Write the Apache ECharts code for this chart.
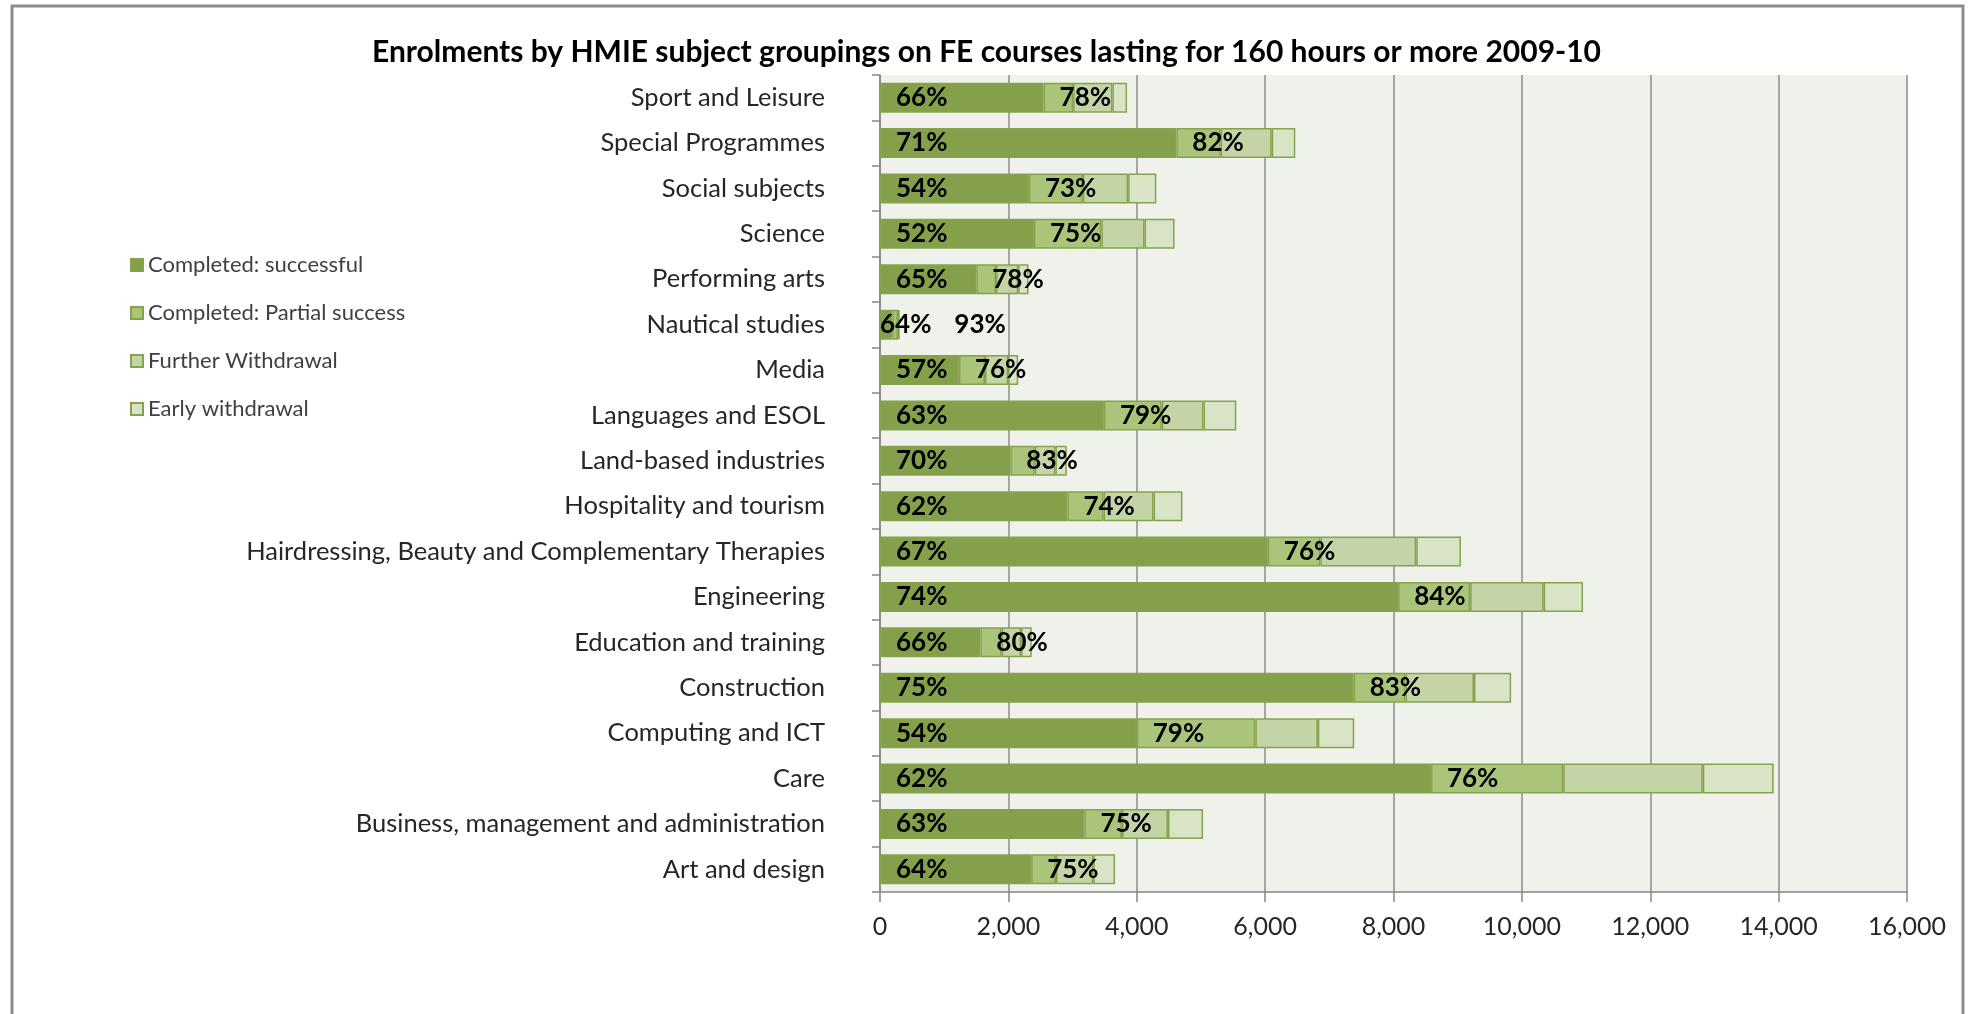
<!DOCTYPE html>
<html>
<head>
<meta charset="utf-8">
<title>Enrolments by HMIE subject groupings 2009-10</title>
<script src="https://cdn.jsdelivr.net/npm/echarts@6/dist/echarts.min.js"></script>
<style>
  html, body { margin: 0; padding: 0; background: #ffffff; }
  #chart { width: 1973px; height: 1014px; }
</style>
</head>
<body>
<div id="chart"></div>
<script>
// Subject groupings, listed bottom to top along the category axis
const categories = [
  'Art and design',
  'Business, management and administration',
  'Care',
  'Computing and ICT',
  'Construction',
  'Education and training',
  'Engineering',
  'Hairdressing, Beauty and Complementary Therapies',
  'Hospitality and tourism',
  'Land-based industries',
  'Languages and ESOL',
  'Media',
  'Nautical studies',
  'Performing arts',
  'Science',
  'Social subjects',
  'Special Programmes',
  'Sport and Leisure'
];

// Enrolment outcomes per grouping
const completedSuccessful = [2355, 3185, 8583, 4000, 7380, 1563, 8073, 6042, 2920, 2031, 3488, 1229, 192, 1500, 2398, 2320, 4617, 2548];
const completedPartial    = [385, 586, 2061, 1847, 807, 332, 1122, 818, 563, 379, 901, 407, 87, 308, 1050, 840, 690, 462];
const furtherWithdrawal   = [584, 715, 2175, 974, 1067, 303, 1145, 1494, 779, 322, 651, 361, 12, 345, 674, 706, 796, 611];
const earlyWithdrawal     = [338, 547, 1104, 567, 579, 166, 613, 697, 450, 178, 511, 156, 9, 161, 467, 439, 367, 228];

const seriesNames = ['Completed: successful', 'Completed: Partial success', 'Further Withdrawal', 'Early withdrawal'];
const xTicks = { min: 0, max: 16000, step: 2000 };

const totals = categories.map((_, i) =>
  completedSuccessful[i] + completedPartial[i] + furtherWithdrawal[i] + earlyWithdrawal[i]);
const successRate = i => Math.round(100 * completedSuccessful[i] / totals[i]) + '%';
const completionRate = i => Math.round(100 * (completedSuccessful[i] + completedPartial[i]) / totals[i]) + '%';

const fills = ['#84A04A', '#AAC47A', '#C4D4A6', '#D9E3C6'];
const edge = '#86A24E';
const textFont = 'Lato, "Open Sans", sans-serif';

// Nautical studies is too narrow for the labels to sit inside its segments
const tinyIdx = categories.indexOf('Nautical studies');
function withLabelShift(values, dx) {
  return values.map((v, i) => i === tinyIdx ? { value: v, label: { offset: [dx, 0] } } : v);
}

const labelStyle = {
  show: true,
  position: 'insideLeft',
  distance: 16,
  color: '#000000',
  fontFamily: textFont,
  fontWeight: 'bold',
  fontSize: 26
};

const chart = echarts.init(document.getElementById('chart'), null, { renderer: 'canvas' });

chart.setOption({
  animation: false,
  backgroundColor: '#ffffff',
  title: {
    text: 'Enrolments by HMIE subject groupings on FE courses lasting for 160 hours or more 2009-10',
    left: 'center',
    top: 32,
    textStyle: { fontFamily: textFont, fontWeight: 'bold', fontSize: 30, color: '#000000' }
  },
  legend: {
    orient: 'vertical',
    left: 125,
    top: 248,
    itemWidth: 12,
    itemHeight: 12,
    itemGap: 24,
    icon: 'rect',
    textStyle: { fontFamily: textFont, fontSize: 22, color: '#404040', lineHeight: 24 },
    data: seriesNames
  },
  graphic: [{
    type: 'rect',
    shape: { x: 12, y: 6, width: 1951, height: 1020 },
    style: { fill: 'none', stroke: '#8C8C8C', lineWidth: 3 },
    silent: true
  }],
  grid: {
    left: 880,
    right: 66,
    top: 75,
    bottom: 122,
    show: true,
    backgroundColor: '#EFF2EA',
    borderWidth: 0
  },
  xAxis: {
    type: 'value',
    min: xTicks.min,
    max: xTicks.max,
    interval: xTicks.step,
    axisLine: { show: true, lineStyle: { color: '#868686', width: 1.5 } },
    axisTick: { show: true, length: 10, lineStyle: { color: '#868686', width: 1.5 } },
    splitLine: { show: true, lineStyle: { color: '#8C8C8C', width: 1.5 } },
    axisLabel: {
      margin: 22,
      fontFamily: textFont,
      fontSize: 25,
      color: '#262626',
      formatter: v => v.toLocaleString('en-US')
    }
  },
  yAxis: {
    type: 'category',
    data: categories,
    axisLine: { show: true, onZero: false, lineStyle: { color: '#868686', width: 1.5 } },
    axisTick: { show: true, length: 8, lineStyle: { color: '#868686', width: 1.5 } },
    axisLabel: {
      margin: 55,
      fontFamily: textFont,
      fontSize: 25.5,
      color: '#262626'
    }
  },
  series: [
    {
      name: seriesNames[0], type: 'bar', stack: 'total', barWidth: 30,
      itemStyle: { color: fills[0], borderColor: edge, borderWidth: 1.5 },
      label: Object.assign({}, labelStyle, { formatter: p => successRate(p.dataIndex) }),
      data: withLabelShift(completedSuccessful, -16)
    },
    {
      name: seriesNames[1], type: 'bar', stack: 'total', barWidth: 30,
      itemStyle: { color: fills[1], borderColor: edge, borderWidth: 1.5 },
      label: Object.assign({}, labelStyle, { formatter: p => completionRate(p.dataIndex) }),
      data: withLabelShift(completedPartial, 46)
    },
    {
      name: seriesNames[2], type: 'bar', stack: 'total', barWidth: 30,
      itemStyle: { color: fills[2], borderColor: edge, borderWidth: 1.5 },
      data: furtherWithdrawal
    },
    {
      name: seriesNames[3], type: 'bar', stack: 'total', barWidth: 30,
      itemStyle: { color: fills[3], borderColor: edge, borderWidth: 1.5 },
      data: earlyWithdrawal
    }
  ]
});
</script>
</body>
</html>
